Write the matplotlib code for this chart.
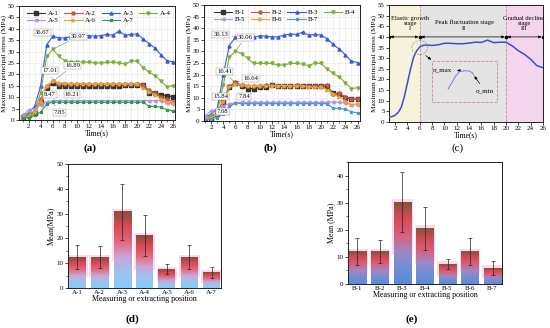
import matplotlib.pyplot as plt
import numpy as np
from matplotlib.colors import LinearSegmentedColormap
from matplotlib.patches import Rectangle, Ellipse

plt.rcParams['font.family'] = ['Liberation Serif', 'DejaVu Serif']
plt.rcParams['font.size'] = 5
plt.rcParams['axes.linewidth'] = 0.6

time = list(range(1, 27))

a_names = ['A-1', 'A-2', 'A-3', 'A-4', 'A-5', 'A-6', 'A-7']
a1 = [1.2, 2, 3, 8, 14, 16.21, 15, 15, 15, 15, 15, 15, 15, 15, 15, 15, 15, 15.2, 15.3, 15.5, 15.5, 12, 12, 11, 10.5, 10.3]
a2 = [1.5, 2, 3.5, 9, 15, 16.89, 16, 16, 16, 16, 16, 16, 16, 16, 16, 16, 16, 16, 15.8, 15.8, 15.5, 13, 12, 10, 9, 8]
a3 = [2, 3, 6, 15, 33, 36.67, 36, 36, 36.5, 37.2, 37, 37, 36.8, 37, 37.5, 37.2, 39, 37.2, 37.5, 37.8, 35.5, 33.5, 31.5, 28.5, 26, 25.5]
a4 = [1.5, 2.5, 4, 12, 28, 30.97, 28, 26, 25.5, 25.5, 25.3, 25.3, 25, 25, 25.3, 25.3, 25, 24.5, 25.8, 25.8, 23, 21, 19.5, 17, 14.5, 15]
a5 = [2, 4.5, 5, 6.5, 8, 8.47, 8.5, 8.5, 8.5, 8.5, 8.5, 8.5, 8.5, 8.5, 8.5, 8.5, 8.5, 8.5, 8.5, 8.5, 8.5, 8.5, 8.5, 8.5, 7.5, 7]
a6 = [1, 1.5, 3, 8, 15, 17.01, 16.3, 16.2, 16, 16, 16, 16, 16, 16, 16, 16, 16, 16, 15.8, 15.8, 14, 12.5, 11, 9, 8, 7.5]
a7 = [1, 1, 2, 3.5, 7, 7.85, 7.8, 7.8, 7.8, 7.8, 7.8, 7.8, 7.8, 7.8, 7.8, 7.8, 7.8, 7.8, 7.8, 7.8, 7.8, 6, 6, 5.5, 4.5, 4]

b_names = ['B-1', 'B-2', 'B-3', 'B-4', 'B-5', 'B-6', 'B-7']
b1 = [1, 1.5, 3, 8, 14.5, 16.41, 15, 14, 14, 14.5, 14.8, 15.5, 15, 15, 15, 15.3, 15, 15, 15, 15, 15, 12, 11.5, 10, 9.5, 9.5]
b2 = [1.2, 2, 3.5, 9, 15, 16.64, 15.5, 15.3, 15.3, 15.3, 15.5, 15.5, 15.3, 15.3, 15.3, 15.5, 15.3, 15.3, 15, 15.3, 15.5, 11.5, 12, 10.5, 9.5, 9.5]
b3 = [1.5, 3, 5, 20, 32.5, 36.13, 35.8, 35.8, 36, 36.8, 36.5, 36.3, 36.3, 37, 37.5, 37.3, 38.3, 37, 37.3, 37, 35.5, 33, 31, 28.5, 25.8, 25.2]
b4 = [1, 2, 3.5, 15.5, 27.5, 30.06, 29, 27, 24.8, 24.8, 24.8, 24.8, 24, 24.2, 24.8, 24.8, 24.5, 23.8, 25, 24.8, 22.5, 20.5, 19, 16.5, 14, 14.3]
b5 = [2, 4.5, 5, 6.5, 7.5, 7.84, 8, 8, 8, 8, 8, 8, 8, 8, 8, 8, 8, 8, 8, 8, 8, 8.2, 8, 7.8, 7, 7]
b6 = [1, 1.5, 3, 8, 14.5, 15.84, 15.5, 15.3, 15.3, 15.3, 15.3, 15.3, 15.3, 15.3, 15.3, 15.3, 15, 14.8, 14.5, 14.5, 13.5, 11.5, 10.5, 8.5, 7, 7.5]
b7 = [0.5, 0.8, 1.5, 3, 6.5, 7.68, 7.5, 7.5, 7.5, 7.5, 7.5, 7.5, 7.5, 7.5, 7.5, 7.5, 7.5, 7.5, 7.5, 7.5, 7.5, 5.5, 5.5, 5, 4, 3.5]

# peak labels: text, text position (t, MPa), peak point
a_labels = [('36.67', (4.3, 38.5), (6, 36.67)), ('30.97', (10.3, 36.8), (6, 30.97)),
            ('17.01', (5.5, 21.5), (6, 17.01)), ('16.89', (9.3, 23.7), (6, 16.89)),
            ('16.21', (9.2, 11.3), (6, 16.21)), ('8.47', (5.5, 11.3), (6, 8.47)),
            ('7.85', (7.1, 3.4), (6, 7.85))]
b_labels = [('36.13', (3.6, 37.5), (6, 36.13)), ('30.06', (7.6, 36.1), (6, 30.06)),
            ('16.41', (4.2, 21.2), (6, 16.41)), ('16.64', (8.5, 18.2), (6, 16.64)),
            ('15.84', (3.6, 10.5), (6, 15.84)), ('7.84', (7.4, 10.5), (6, 7.84)),
            ('7.68', (3.9, 4.0), (6, 7.68))]

a_colors = ['#333333', '#c8553d', '#3a5bd9', '#7fad3a', '#b28ef0', '#e8a23a', '#2e9a4e']
b_colors = ['#333333', '#c8553d', '#3a5bd9', '#7fad3a', '#b28ef0', '#e8a23a', '#4a9ad9']
markers = ['s', 'o', '^', 'v', '<', '>', '*']

# stage diagram (c)
time_c = [1, 1.5, 2, 2.5, 3, 3.5, 4, 4.5, 5, 5.5, 6, 6.5, 7, 8, 9, 10, 11, 12, 13, 14, 15, 16, 17, 18, 19, 20, 21, 22, 23, 24, 25, 26]
stress_c = [2.3, 2.5, 3.2, 4.5, 7, 12, 18.5, 25, 30.5, 33.5, 35.3, 36, 36.2, 36, 36.3, 37, 37, 36.8, 36.8, 37.1, 37.5, 37.4, 38.5, 37.3, 37.5, 37.5, 35.8, 33.5, 31.8, 29.5, 26.5, 25.5]
stage_edges = [1, 6, 20, 26]
stage_colors = ['#f6f2dc', '#e4e4e4', '#f3d5ee']
inset_t = [10.6, 11.2, 11.8, 12.4, 13.2, 14.0, 14.5, 14.8]
inset_s = [15.5, 18.5, 21.5, 23.6, 24.1, 24.0, 23.2, 22.0]

mean_a = [12.5, 12.5, 30.7, 21.2, 7.6, 12.5, 6.2]
err_a = [5.0, 4.5, 11.2, 8.2, 1.9, 5.0, 2.3]
mean_b = [12.0, 12.0, 30.2, 20.6, 7.3, 12.0, 5.9]
err_b = [5.0, 4.3, 11.1, 7.9, 1.8, 5.0, 2.4]


def style_axes(ax):
    ax.tick_params(direction='out', length=2, width=0.5, pad=1.2, labelsize=5)
    ax.tick_params(which='minor', length=1.2, width=0.4)


def draw_lines(ax, names, series, colors, labels, xlim):
    lines = []
    for name, s, c, m in zip(names, series, colors, markers):
        ln, = ax.plot(time, s, color=c, marker=m, ms=2.2, lw=0.8, label=name)
        lines.append(ln)
    for text, pos, pt in labels:
        ax.annotate(text, xy=pt, xytext=pos, fontsize=4.8, ha='center', va='center',
                    bbox=dict(boxstyle='square,pad=0.15', fc='white', ec='#888888', lw=0.3),
                    arrowprops=dict(arrowstyle='-', lw=0.3, color='#555555'))
    ax.set_xlim(*xlim)
    ax.set_ylim(0, 50)
    ax.set_xticks(range(2, 27, 2))
    ax.set_yticks(range(0, 51, 5))
    ax.set_xticks(range(1, 27), minor=True)
    ax.grid(True, which='both', color='#e3e3e3', lw=0.4)
    ax.set_axisbelow(True)
    ax.set_xlabel('Time(s)', fontsize=5.5, labelpad=0)
    ax.set_ylabel('Maximum principal stress (MPa)', fontsize=5.2, labelpad=0.5)
    # row-wise legend order for 4 columns
    order = [0, 4, 1, 5, 2, 6, 3]
    ax.legend([lines[i] for i in order], [names[i] for i in order], ncol=4, loc='upper right',
              frameon=False, fontsize=5, handlelength=2.6, columnspacing=0.8,
              handletextpad=0.4, labelspacing=0.2, borderaxespad=0.2)
    style_axes(ax)


def gradient_bars(ax, names, means, errs, cmap, ylim):
    x = np.arange(len(names))
    glow_bottom = [m * 0.35 for m in means]
    glow_height = [m * 0.65 + 1 for m in means]
    ax.bar(x, glow_height, bottom=glow_bottom, width=0.92, color='#fbd9ef', zorder=1)
    bars = ax.bar(x, means, width=0.76, color='none', zorder=2)
    grad = np.linspace(0, 1, 256).reshape(-1, 1)
    for b in bars:
        ax.imshow(grad, cmap=cmap, origin='lower', aspect='auto', zorder=2,
                  extent=[b.get_x(), b.get_x() + b.get_width(), 0, b.get_height()])
    ax.errorbar(x, means, yerr=errs, fmt='none', ecolor='#222222', elinewidth=0.5,
                capsize=1.2, capthick=0.5, zorder=3)
    ax.set_xticks(x)
    ax.set_xticklabels(names)
    ax.set_xlim(-0.42, 6.42)
    ax.set_ylim(*ylim)
    ax.yaxis.set_minor_locator(plt.MultipleLocator(5))
    ax.set_xlabel('Measuring or extracting position', fontsize=5.8, labelpad=0.5)
    style_axes(ax)
    ax.tick_params(axis='x', length=0)


W, H = 550, 328
fig = plt.figure(figsize=(5.5, 3.28), dpi=100)


def add_axes(l, r, t, b):
    return fig.add_axes([l / W, 1 - b / H, (r - l) / W, (b - t) / H])


ax_a = add_axes(19, 175, 6, 120)
ax_b = add_axes(204, 360, 5, 121)
ax_c = add_axes(389, 543, 5, 122)
ax_d = add_axes(68, 221, 164, 288)
ax_e = add_axes(348, 502, 162, 284)

draw_lines(ax_a, a_names, [a1, a2, a3, a4, a5, a6, a7], a_colors, a_labels, (0.4, 26.3))
draw_lines(ax_b, b_names, [b1, b2, b3, b4, b5, b6, b7], b_colors, b_labels, (0.85, 26.4))

# (c) stage diagram
for i, c in enumerate(stage_colors):
    ax_c.axvspan(stage_edges[i], stage_edges[i + 1], color=c, lw=0, zorder=0)
for e in stage_edges[1:-1]:
    ax_c.axvline(e, color='#d08a8a', ls='--', lw=0.6, zorder=1)
for i in range(3):
    ax_c.annotate('', xy=(stage_edges[i], 40), xytext=(stage_edges[i + 1], 40),
                  arrowprops=dict(arrowstyle='<|-|>', lw=0.5, color='black',
                                  mutation_scale=4, shrinkA=1, shrinkB=1))
ax_c.plot(stage_edges + stage_edges[1:-1], [40] * 6, 'ko', ms=1.5, zorder=3)
ax_c.text(4.4, 46.3, 'Elastic growth\nstage\nI', ha='center', va='center', fontsize=4.7, linespacing=1.05)
ax_c.text(13.2, 45.5, 'Peak fluctuation stage\nII', ha='center', va='center', fontsize=4.8, linespacing=1.3)
ax_c.text(22.9, 46.3, 'Gradual decline\nstage\nIII', ha='center', va='center', fontsize=4.6, linespacing=1.05)
ax_c.plot(time_c, stress_c, color='#3a4fd0', lw=1.1, zorder=4)
ax_c.add_patch(Rectangle((8.0, 9.5), 10.6, 19.2, fill=False, ec='#c48a8a', ls='--', lw=0.6, zorder=3))
ax_c.add_patch(Ellipse((6.0, 35.0), 2.6, 6.5, fill=False, ec='#999999', ls='--', lw=0.5, zorder=5))
ax_c.annotate('', xy=(8.2, 28.5), xytext=(6.6, 32),
              arrowprops=dict(arrowstyle='-|>', lw=0.5, color='black', mutation_scale=4))
ax_c.plot(inset_t, inset_s, color='#5a6ee0', lw=0.6, zorder=4)
ax_c.annotate('σ_max', xy=(12.3, 24.2), xytext=(9.6, 24.2), ha='center', va='center', fontsize=5,
              arrowprops=dict(arrowstyle='<|-', lw=0.5, color='black', mutation_scale=4))
ax_c.annotate('σ_min', xy=(14.6, 22.6), xytext=(16.6, 14.5), ha='center', va='center', fontsize=5,
              arrowprops=dict(arrowstyle='-|>', lw=0.5, color='black', mutation_scale=4))
ax_c.set_xlim(1, 26)
ax_c.set_ylim(0, 55)
ax_c.set_xticks(range(2, 27, 2))
ax_c.set_yticks(range(0, 56, 5))
ax_c.set_xlabel('Time(s)', fontsize=5.5, labelpad=0)
ax_c.set_ylabel('Maximum principal stress (MPa)', fontsize=5.2, labelpad=0.5)
style_axes(ax_c)

cmap_d = LinearSegmentedColormap.from_list('d', ['#86cbf6', '#9cc4f0', '#c9a6d6', '#e3687c', '#d84a55', '#8e4a3c'])
cmap_e = LinearSegmentedColormap.from_list('e', ['#5b8ad8', '#6f8fd6', '#a286c4', '#d9607a', '#d64a58', '#86503e'])
gradient_bars(ax_d, a_names, mean_a, err_a, cmap_d, (0, 50))
ax_d.set_ylabel('Mean(MPa)', fontsize=5.8, labelpad=1)
gradient_bars(ax_e, b_names, mean_b, err_b, cmap_e, (0, 45))
ax_e.set_ylabel('Mean (MPa)', fontsize=5.8, labelpad=1)

for txt, x, y in [('(a)', 90, 148), ('(b)', 270, 148), ('(c)', 458, 148), ('(d)', 132, 319), ('(e)', 412, 319)]:
    fig.text(x / W, 1 - y / H, txt, ha='center', va='center', fontsize=8,
             fontweight='bold' if txt != '(c)' else 'normal')

fig.savefig('out.png', dpi=100)
